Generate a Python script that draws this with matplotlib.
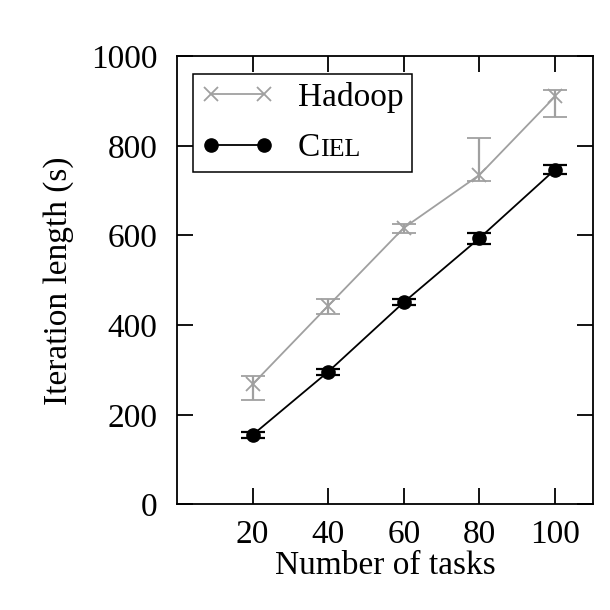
import matplotlib
matplotlib.use("Agg")
import matplotlib.pyplot as plt
from matplotlib.lines import Line2D
import numpy as np

# Data
tasks = [20, 40, 60, 80, 100]

hadoop_mean = [268, 443, 617, 735, 910]
hadoop_low = [233, 425, 606, 722, 864]
hadoop_high = [286, 458, 626, 817, 925]

ciel_mean = [155, 296, 451, 594, 747]
ciel_low = [149, 289, 444, 581, 738]
ciel_high = [161, 303, 458, 605, 757]

x_ticks = [20, 40, 60, 80, 100]
y_ticks = [0, 200, 400, 600, 800, 1000]

GREY = "#a0a0a0"
BLACK = "#000000"
FS = 24

plt.rcParams["font.family"] = ["Liberation Serif", "DejaVu Serif"]

fig = plt.figure(figsize=(6.1, 6.1), dpi=100)
ax = fig.add_axes([0.290, 0.173, 0.682, 0.735])


def yerr(mean, low, high):
    m = np.array(mean)
    return np.vstack([m - np.array(low), np.array(high) - m])


ax.errorbar(tasks, hadoop_mean, yerr=yerr(hadoop_mean, hadoop_low, hadoop_high),
            color=GREY, marker="x", markersize=10, markeredgewidth=1.3,
            linewidth=1.3, elinewidth=1.6, capsize=8.5, capthick=1.6)
ax.errorbar(tasks, ciel_mean, yerr=yerr(ciel_mean, ciel_low, ciel_high),
            color=BLACK, marker="o", markersize=9.5,
            linewidth=1.3, elinewidth=1.6, capsize=8.5, capthick=1.6)

ax.set_xlim(0, 110)
ax.set_ylim(0, 1000)
ax.set_xticks(x_ticks)
ax.set_yticks(y_ticks)

for sp in ax.spines.values():
    sp.set_linewidth(1.3)
ax.tick_params(direction="in", length=11.5, width=1.3, top=True, right=True,
               labelsize=FS)
ax.tick_params(axis="x", pad=11)
ax.tick_params(axis="y", pad=14)

ax.set_xlabel("Number of tasks", fontsize=FS, labelpad=0)
ax.set_ylabel("Iteration length (s)", fontsize=FS, labelpad=12)

handles = [
    Line2D([], [], color=GREY, marker="x", markersize=10, markeredgewidth=1.3,
           linewidth=1.3, label="Hadoop"),
    Line2D([], [], color=BLACK, marker="o", markersize=9.5, linewidth=1.3,
           label="C"),
]
leg = ax.legend(handles=handles, loc="upper left",
                bbox_to_anchor=(0.038, 0.961),
                borderaxespad=0, fancybox=False, edgecolor="black",
                framealpha=1, fontsize=FS, numpoints=2, handlelength=2.2,
                handletextpad=0.7, borderpad=0.25, labelspacing=0.6)
leg.get_frame().set_linewidth(1.1)

# small caps "CIEL": append the smaller "IEL" after the "C" in the legend
fig.canvas.draw()
txt = leg.get_texts()[1]
renderer = fig.canvas.get_renderer()
bb = txt.get_window_extent(renderer)
bx, by = txt.get_transform().transform(txt.get_position())
fig.text(bb.x1 / fig.bbox.width, by / fig.bbox.height, "IEL",
         fontsize=FS * 0.78, ha="left", va="baseline")

fig.savefig("out.png", dpi=100)
